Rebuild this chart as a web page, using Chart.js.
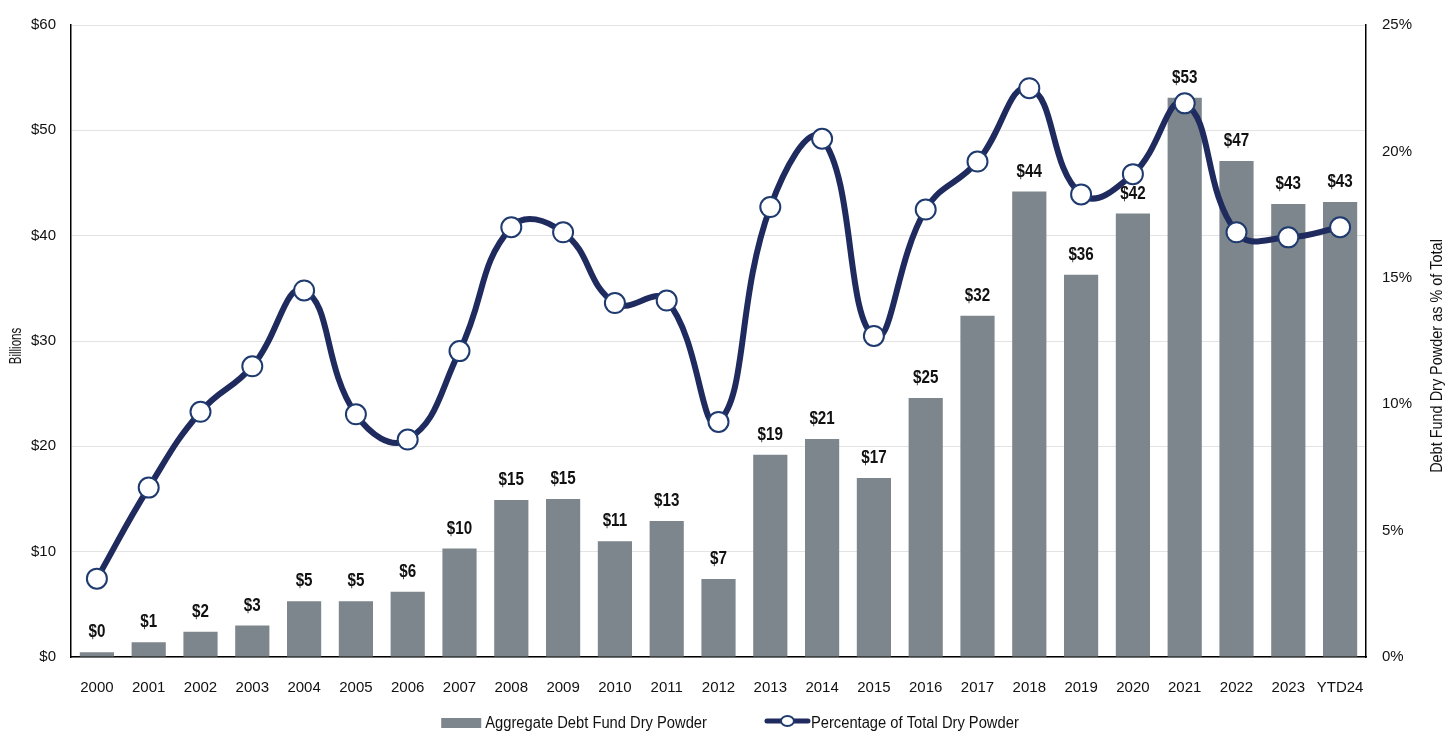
<!DOCTYPE html>
<html>
<head>
<meta charset="utf-8">
<title>Debt Fund Dry Powder</title>
<script src="https://cdn.jsdelivr.net/npm/chart.js@4.4.1/dist/chart.umd.min.js"></script>
<style>
  html, body { margin: 0; padding: 0; background: #fff; overflow: hidden; }
  #wrap { width: 1456px; height: 734px; }
</style>
</head>
<body>
<div id="wrap"><canvas id="chart" width="1456" height="734"></canvas></div>
<script>
// Data
const years = ['2000', '2001', '2002', '2003', '2004', '2005', '2006', '2007', '2008', '2009', '2010', '2011', '2012',
    '2013', '2014', '2015', '2016', '2017', '2018', '2019', '2020', '2021', '2022', '2023', 'YTD24'];
const dryPowder = [0.45, 1.4, 2.4, 3.0, 5.3, 5.3, 6.2, 10.3, 14.9, 15.0, 11.0, 12.9, 7.4,
    19.2, 20.7, 17.0, 24.6, 32.4, 44.2, 36.3, 42.1, 53.1, 47.1, 43.0, 43.2];
const pctOfTotal = [3.1, 6.7, 9.7, 11.5, 14.5, 9.6, 8.6, 12.1, 17.0, 16.8, 14.0, 14.1, 9.3,
    17.8, 20.5, 12.7, 17.7, 19.6, 22.5, 18.3, 19.1, 21.9, 16.8, 16.6, 17.0];
const dollarTicks = [0, 10, 20, 30, 40, 50, 60];
const pctTicks = [0, 5, 10, 15, 20, 25];

const barLabel = 'Aggregate Debt Fund Dry Powder';
const lineLabel = 'Percentage of Total Dry Powder';
const leftTitle = 'Billions';
const rightTitle = 'Debt Fund Dry Powder as % of Total';

const barColor = '#7d868c';
const lineColor = '#1f2a5e';
const pointEdge = '#1e3a6e';
const regular = '"Liberation Sans", Arial, sans-serif';

Chart.defaults.font.family = regular;
Chart.defaults.font.size = 15;
Chart.defaults.color = '#111';

// condensed text: draw a normal face squeezed horizontally
function narrowText(ctx, text, x, y, squeeze, angle) {
    ctx.save();
    ctx.translate(x, y);
    if (angle) ctx.rotate(angle);
    ctx.scale(squeeze, 1);
    ctx.fillText(text, 0, 0);
    ctx.restore();
}

// "$xx" labels above the bars, drawn before the line so the line covers them
const barLabels = {
    id: 'barLabels',
    afterDatasetDraw(chart, args) {
        if (args.index !== 0) return;
        const ctx = chart.ctx;
        ctx.save();
        ctx.font = 'bold 19px ' + regular;
        ctx.fillStyle = '#111';
        ctx.textAlign = 'center';
        ctx.textBaseline = 'middle';
        args.meta.data.forEach((bar, i) => {
            narrowText(ctx, '$' + Math.round(dryPowder[i]), bar.x, bar.y - 20, 0.8);
        });
        ctx.restore();
    }
};

// Axis titles (right one reads bottom-to-top) and the bottom legend
const extras = {
    id: 'extras',
    afterDraw(chart) {
        const ctx = chart.ctx;
        const area = chart.chartArea;
        const midY = area.top + (area.bottom - area.top) / 2;
        ctx.save();
        ctx.fillStyle = '#111';
        ctx.textAlign = 'center';
        ctx.textBaseline = 'middle';

        ctx.font = '16px ' + regular;
        narrowText(ctx, leftTitle, 17, midY + 5, 0.72, -Math.PI / 2);

        ctx.font = '17px ' + regular;
        narrowText(ctx, rightTitle, chart.width - 19, midY + 15, 0.85, -Math.PI / 2);

        // legend
        const y = 724;
        ctx.font = '16px ' + regular;
        ctx.textAlign = 'left';
        const squeeze = 0.92;
        const w1 = ctx.measureText(barLabel).width * squeeze;
        const w2 = ctx.measureText(lineLabel).width * squeeze;
        const sw1 = 40, sw2 = 45, gapText = 4, gapItem = 58;
        const total = sw1 + gapText + w1 + gapItem + sw2 + 1 + w2;
        let x = chart.width / 2 + 2 - total / 2;

        ctx.fillStyle = barColor;
        ctx.fillRect(x, y - 6, sw1, 10);
        x += sw1 + gapText;
        ctx.fillStyle = '#111';
        narrowText(ctx, barLabel, x, y, squeeze);
        x += w1 + gapItem;

        ctx.strokeStyle = lineColor;
        ctx.lineWidth = 5;
        ctx.lineCap = 'round';
        ctx.beginPath();
        ctx.moveTo(x + 2, y - 3);
        ctx.lineTo(x + sw2 - 2, y - 3);
        ctx.stroke();
        ctx.beginPath();
        ctx.ellipse(x + sw2 / 2, y - 3, 6.5, 5, 0, 0, Math.PI * 2);
        ctx.fillStyle = '#fff';
        ctx.fill();
        ctx.lineWidth = 2;
        ctx.strokeStyle = pointEdge;
        ctx.stroke();
        x += sw2 + 1;
        ctx.fillStyle = '#111';
        narrowText(ctx, lineLabel, x, y, squeeze);
        ctx.restore();
    }
};

const ctx = document.getElementById('chart').getContext('2d');
new Chart(ctx, {
    type: 'bar',
    data: {
        labels: years,
        datasets: [{
            type: 'bar',
            label: barLabel,
            data: dryPowder,
            backgroundColor: barColor,
            categoryPercentage: 1,
            barPercentage: 0.66,
            yAxisID: 'y',
            order: 1
        }, {
            type: 'line',
            label: lineLabel,
            data: pctOfTotal,
            borderColor: lineColor,
            borderWidth: 6,
            tension: 0.45,
            pointRadius: 10,
            pointHoverRadius: 10,
            pointBackgroundColor: '#fff',
            pointBorderColor: pointEdge,
            pointBorderWidth: 2,
            yAxisID: 'y1',
            order: 0
        }]
    },
    options: {
        responsive: false,
        animation: false,
        layout: { padding: { top: 23, right: 0, bottom: 0, left: 0 } },
        plugins: {
            legend: { display: false },
            tooltip: { enabled: false }
        },
        scales: {
            x: {
                grid: { display: false },
                border: { color: '#000', width: 1.5 },
                ticks: { padding: 14, color: '#111', font: { size: 15 }, maxRotation: 0, minRotation: 0, autoSkip: false },
                afterFit(scale) { scale.height = 77; }
            },
            y: {
                position: 'left',
                min: dollarTicks[0],
                max: dollarTicks[dollarTicks.length - 1],
                afterBuildTicks(scale) { scale.ticks = dollarTicks.map(v => ({ value: v })); },
                grid: { color: '#e3e3e3', lineWidth: 1, drawTicks: false },
                border: { color: '#000', width: 1.5 },
                ticks: { padding: 15, color: '#111', callback: v => '$' + v },
                afterFit(scale) { scale.width = 71; }
            },
            y1: {
                position: 'right',
                min: pctTicks[0],
                max: pctTicks[pctTicks.length - 1],
                afterBuildTicks(scale) { scale.ticks = pctTicks.map(v => ({ value: v })); },
                grid: { display: false, drawTicks: false },
                border: { color: '#000', width: 1.5 },
                ticks: { padding: 16, color: '#111', callback: v => v + '%' },
                afterFit(scale) { scale.width = 90; }
            }
        }
    },
    plugins: [barLabels, extras]
});
</script>
</body>
</html>
